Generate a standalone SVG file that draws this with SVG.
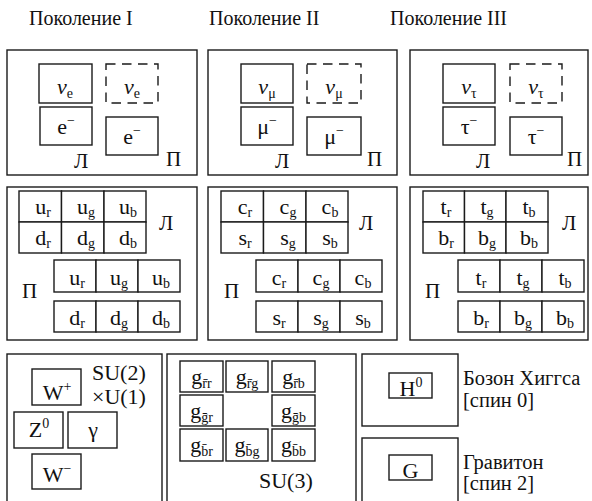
<svg xmlns="http://www.w3.org/2000/svg" width="592" height="501" viewBox="0 0 592 501">
  <style>
    .frame { fill: #fff; stroke: #1a1a1a; stroke-width: 1.4; }
    .cell { fill: #fff; stroke: #1a1a1a; stroke-width: 1.4; }
    .dashcell { fill: none; stroke: #1a1a1a; stroke-width: 1.4; stroke-dasharray: 9.5 6.5; }
    text, tspan { font-family: 'Liberation Serif', 'Times New Roman', serif !important; }
    text { fill: #111; }
    .heading { font-size: 20px; }
    .sym { font-size: 22px; text-anchor: middle; }
    .chir { font-size: 21px; }
    .note { font-size: 20.5px; }
    .group { font-size: 22px; }
    .idx { font-size: 14px; }
    .ital { font-style: italic; }
  </style>
  <rect width="592" height="501" fill="#fff"/>

  <g font-family="'Liberation Serif'" style="font-family: 'Liberation Serif', serif !important">

  <!-- generation headings -->
  <g id="headings">
    <text class="heading" x="29" y="25">Поколение I</text>
    <text class="heading" x="209" y="25">Поколение II</text>
    <text class="heading" x="390" y="25">Поколение III</text>
  </g>

  <!-- leptons, generation I -->
  <g id="leptons-1">
    <rect class="frame" x="7" y="50" width="190" height="125"/>
    <rect class="cell" x="39" y="64" width="53" height="39"/>
    <text class="sym" x="65" y="94"><tspan class="ital">ν</tspan><tspan class="idx" dy="4">e</tspan></text>
    <rect class="dashcell" x="106" y="64" width="52" height="39"/>
    <text class="sym" x="132" y="94"><tspan class="ital">ν</tspan><tspan class="idx" dy="4">e</tspan></text>
    <rect class="cell" x="40" y="107" width="52" height="38"/>
    <text class="sym" x="66" y="134">e<tspan class="idx" dy="-9">−</tspan></text>
    <rect class="cell" x="106" y="117" width="52" height="38"/>
    <text class="sym" x="132" y="144">e<tspan class="idx" dy="-9">−</tspan></text>
    <text class="chir" x="74" y="168">Л</text>
    <text class="chir" x="166" y="166">П</text>
  </g>

  <!-- leptons, generation II -->
  <g id="leptons-2">
    <rect class="frame" x="208" y="50" width="189" height="125"/>
    <rect class="cell" x="241" y="64" width="52" height="39"/>
    <text class="sym" x="267" y="94"><tspan class="ital">ν</tspan><tspan class="idx" dy="4">μ</tspan></text>
    <rect class="dashcell" x="307" y="64" width="54" height="39"/>
    <text class="sym" x="334" y="94"><tspan class="ital">ν</tspan><tspan class="idx" dy="4">μ</tspan></text>
    <rect class="cell" x="241" y="107" width="52" height="38"/>
    <text class="sym" x="267" y="134">μ<tspan class="idx" dy="-9">−</tspan></text>
    <rect class="cell" x="307" y="117" width="54" height="38"/>
    <text class="sym" x="334" y="144">μ<tspan class="idx" dy="-9">−</tspan></text>
    <text class="chir" x="275" y="168">Л</text>
    <text class="chir" x="367" y="166">П</text>
  </g>

  <!-- leptons, generation III -->
  <g id="leptons-3">
    <rect class="frame" x="410" y="50" width="178" height="125"/>
    <rect class="cell" x="443" y="64" width="52" height="39"/>
    <text class="sym" x="469" y="94"><tspan class="ital">ν</tspan><tspan class="idx" dy="4">τ</tspan></text>
    <rect class="dashcell" x="510" y="64" width="52" height="39"/>
    <text class="sym" x="536" y="94"><tspan class="ital">ν</tspan><tspan class="idx" dy="4">τ</tspan></text>
    <rect class="cell" x="443" y="107" width="52" height="38"/>
    <text class="sym" x="469" y="134">τ<tspan class="idx" dy="-9">−</tspan></text>
    <rect class="cell" x="510" y="117" width="52" height="38"/>
    <text class="sym" x="536" y="144">τ<tspan class="idx" dy="-9">−</tspan></text>
    <text class="chir" x="476" y="168">Л</text>
    <text class="chir" x="567" y="166">П</text>
  </g>

  <!-- quarks, generation I -->
  <g id="quarks-1">
    <rect class="frame" x="7" y="187" width="190" height="153"/>
    <rect class="cell" x="19" y="191" width="42.5" height="31"/>
    <rect class="cell" x="61.5" y="191" width="42.5" height="31"/>
    <rect class="cell" x="104" y="191" width="42" height="31"/>
    <rect class="cell" x="19" y="222" width="42.5" height="31"/>
    <rect class="cell" x="61.5" y="222" width="42.5" height="31"/>
    <rect class="cell" x="104" y="222" width="42" height="31"/>
    <text class="sym" x="43" y="214">u<tspan class="idx" dy="3">r</tspan></text>
    <text class="sym" x="86" y="214">u<tspan class="idx" dy="3">g</tspan></text>
    <text class="sym" x="128" y="214">u<tspan class="idx" dy="3">b</tspan></text>
    <text class="sym" x="43" y="245">d<tspan class="idx" dy="3">r</tspan></text>
    <text class="sym" x="86" y="245">d<tspan class="idx" dy="3">g</tspan></text>
    <text class="sym" x="128" y="245">d<tspan class="idx" dy="3">b</tspan></text>
    <rect class="cell" x="54" y="260" width="42" height="32"/>
    <rect class="cell" x="96" y="260" width="42" height="32"/>
    <rect class="cell" x="138" y="260" width="42" height="32"/>
    <rect class="cell" x="54" y="301" width="42" height="31"/>
    <rect class="cell" x="96" y="301" width="42" height="31"/>
    <rect class="cell" x="138" y="301" width="42" height="31"/>
    <text class="sym" x="77" y="285">u<tspan class="idx" dy="3">r</tspan></text>
    <text class="sym" x="119" y="285">u<tspan class="idx" dy="3">g</tspan></text>
    <text class="sym" x="161" y="285">u<tspan class="idx" dy="3">b</tspan></text>
    <text class="sym" x="77" y="325">d<tspan class="idx" dy="3">r</tspan></text>
    <text class="sym" x="119" y="325">d<tspan class="idx" dy="3">g</tspan></text>
    <text class="sym" x="161" y="325">d<tspan class="idx" dy="3">b</tspan></text>
    <text class="chir" x="159" y="230">Л</text>
    <text class="chir" x="22" y="298">П</text>
  </g>

  <!-- quarks, generation II -->
  <g id="quarks-2">
    <rect class="frame" x="208" y="187" width="189" height="153"/>
    <rect class="cell" x="221" y="191" width="42.5" height="31"/>
    <rect class="cell" x="263.5" y="191" width="42.5" height="31"/>
    <rect class="cell" x="306" y="191" width="42" height="31"/>
    <rect class="cell" x="221" y="222" width="42.5" height="31"/>
    <rect class="cell" x="263.5" y="222" width="42.5" height="31"/>
    <rect class="cell" x="306" y="222" width="42" height="31"/>
    <text class="sym" x="245" y="214">c<tspan class="idx" dy="3">r</tspan></text>
    <text class="sym" x="288" y="214">c<tspan class="idx" dy="3">g</tspan></text>
    <text class="sym" x="330" y="214">c<tspan class="idx" dy="3">b</tspan></text>
    <text class="sym" x="245" y="245">s<tspan class="idx" dy="3">r</tspan></text>
    <text class="sym" x="288" y="245">s<tspan class="idx" dy="3">g</tspan></text>
    <text class="sym" x="330" y="245">s<tspan class="idx" dy="3">b</tspan></text>
    <rect class="cell" x="256" y="260" width="42" height="32"/>
    <rect class="cell" x="298" y="260" width="42" height="32"/>
    <rect class="cell" x="340" y="260" width="42" height="32"/>
    <rect class="cell" x="256" y="301" width="42" height="31"/>
    <rect class="cell" x="298" y="301" width="42" height="31"/>
    <rect class="cell" x="340" y="301" width="42" height="31"/>
    <text class="sym" x="279" y="285">c<tspan class="idx" dy="3">r</tspan></text>
    <text class="sym" x="321" y="285">c<tspan class="idx" dy="3">g</tspan></text>
    <text class="sym" x="363" y="285">c<tspan class="idx" dy="3">b</tspan></text>
    <text class="sym" x="279" y="325">s<tspan class="idx" dy="3">r</tspan></text>
    <text class="sym" x="321" y="325">s<tspan class="idx" dy="3">g</tspan></text>
    <text class="sym" x="363" y="325">s<tspan class="idx" dy="3">b</tspan></text>
    <text class="chir" x="359" y="230">Л</text>
    <text class="chir" x="224" y="298">П</text>
  </g>

  <!-- quarks, generation III -->
  <g id="quarks-3">
    <rect class="frame" x="410" y="187" width="178" height="153"/>
    <rect class="cell" x="423" y="191" width="41.5" height="31"/>
    <rect class="cell" x="464.5" y="191" width="41.5" height="31"/>
    <rect class="cell" x="506" y="191" width="42" height="31"/>
    <rect class="cell" x="423" y="222" width="41.5" height="31"/>
    <rect class="cell" x="464.5" y="222" width="41.5" height="31"/>
    <rect class="cell" x="506" y="222" width="42" height="31"/>
    <text class="sym" x="446" y="214">t<tspan class="idx" dy="3">r</tspan></text>
    <text class="sym" x="487" y="214">t<tspan class="idx" dy="3">g</tspan></text>
    <text class="sym" x="529" y="214">t<tspan class="idx" dy="3">b</tspan></text>
    <text class="sym" x="446" y="245">b<tspan class="idx" dy="3">r</tspan></text>
    <text class="sym" x="487" y="245">b<tspan class="idx" dy="3">g</tspan></text>
    <text class="sym" x="529" y="245">b<tspan class="idx" dy="3">b</tspan></text>
    <rect class="cell" x="458" y="260" width="42" height="32"/>
    <rect class="cell" x="500" y="260" width="42" height="32"/>
    <rect class="cell" x="542" y="260" width="42" height="32"/>
    <rect class="cell" x="458" y="301" width="42" height="31"/>
    <rect class="cell" x="500" y="301" width="42" height="31"/>
    <rect class="cell" x="542" y="301" width="42" height="31"/>
    <text class="sym" x="481" y="285">t<tspan class="idx" dy="3">r</tspan></text>
    <text class="sym" x="523" y="285">t<tspan class="idx" dy="3">g</tspan></text>
    <text class="sym" x="565" y="285">t<tspan class="idx" dy="3">b</tspan></text>
    <text class="sym" x="481" y="325">b<tspan class="idx" dy="3">r</tspan></text>
    <text class="sym" x="523" y="325">b<tspan class="idx" dy="3">g</tspan></text>
    <text class="sym" x="565" y="325">b<tspan class="idx" dy="3">b</tspan></text>
    <text class="chir" x="562" y="230">Л</text>
    <text class="chir" x="425" y="298">П</text>
  </g>

  <!-- electroweak bosons -->
  <g id="electroweak">
    <rect class="frame" x="7" y="354" width="155" height="160"/>
    <rect class="cell" x="32" y="369" width="49" height="36"/>
    <text class="sym" x="57" y="400">W<tspan class="idx" dy="-9">+</tspan></text>
    <rect class="cell" x="14" y="412" width="49" height="36"/>
    <text class="sym" x="39" y="437">Z<tspan class="idx" dy="-9">0</tspan></text>
    <rect class="cell" x="68" y="412" width="49" height="36"/>
    <text class="sym" x="93" y="437">γ</text>
    <rect class="cell" x="32" y="454" width="49" height="35"/>
    <text class="sym" x="57" y="482">W<tspan class="idx" dy="-9">−</tspan></text>
    <text class="group" x="92" y="380">SU(2)</text>
    <text class="group" x="92" y="404">×U(1)</text>
  </g>

  <!-- gluons -->
  <g id="gluons">
    <rect class="frame" x="167" y="354" width="189" height="160"/>
    <rect class="cell" x="180" y="361" width="43" height="31"/>
    <rect class="cell" x="226" y="361" width="42" height="31"/>
    <rect class="cell" x="272" y="361" width="43" height="31"/>
    <rect class="cell" x="180" y="395" width="43" height="31"/>
    <rect class="cell" x="272" y="395" width="43" height="31"/>
    <rect class="cell" x="180" y="429" width="43" height="32"/>
    <rect class="cell" x="226" y="429" width="42" height="32"/>
    <rect class="cell" x="272" y="429" width="43" height="32"/>
    <text class="sym" x="201.5" y="384">g<tspan class="idx" dy="4">r̄r</tspan></text>
    <text class="sym" x="247" y="384">g<tspan class="idx" dy="4">r̄g</tspan></text>
    <text class="sym" x="293.5" y="384">g<tspan class="idx" dy="4">r̄b</tspan></text>
    <text class="sym" x="201.5" y="418">g<tspan class="idx" dy="4">ḡr</tspan></text>
    <text class="sym" x="293.5" y="418">g<tspan class="idx" dy="4">ḡb</tspan></text>
    <text class="sym" x="201.5" y="452">g<tspan class="idx" dy="4">b̄r</tspan></text>
    <text class="sym" x="247" y="452">g<tspan class="idx" dy="4">b̄g</tspan></text>
    <text class="sym" x="293.5" y="452">g<tspan class="idx" dy="4">b̄b</tspan></text>
    <text class="group" x="259" y="488">SU(3)</text>
  </g>

  <!-- Higgs boson -->
  <g id="higgs">
    <rect class="frame" x="362" y="354" width="96" height="72"/>
    <rect class="cell" x="389" y="373" width="43" height="25"/>
    <text class="sym" x="411" y="396">H<tspan class="idx" dy="-9">0</tspan></text>
    <text class="note" x="463" y="385">Бозон Хиггса</text>
    <text class="note" x="463" y="407">[спин 0]</text>
  </g>

  <!-- graviton -->
  <g id="graviton">
    <rect class="frame" x="362" y="438" width="96" height="76"/>
    <rect class="cell" x="389" y="455" width="43" height="25"/>
    <text class="sym" x="410.5" y="478">G</text>
    <text class="note" x="463" y="469">Гравитон</text>
    <text class="note" x="463" y="490">[спин 2]</text>
  </g>

  <!-- the chart has no connecting lines -->
  <g id="connectors"/>

  </g>
</svg>
